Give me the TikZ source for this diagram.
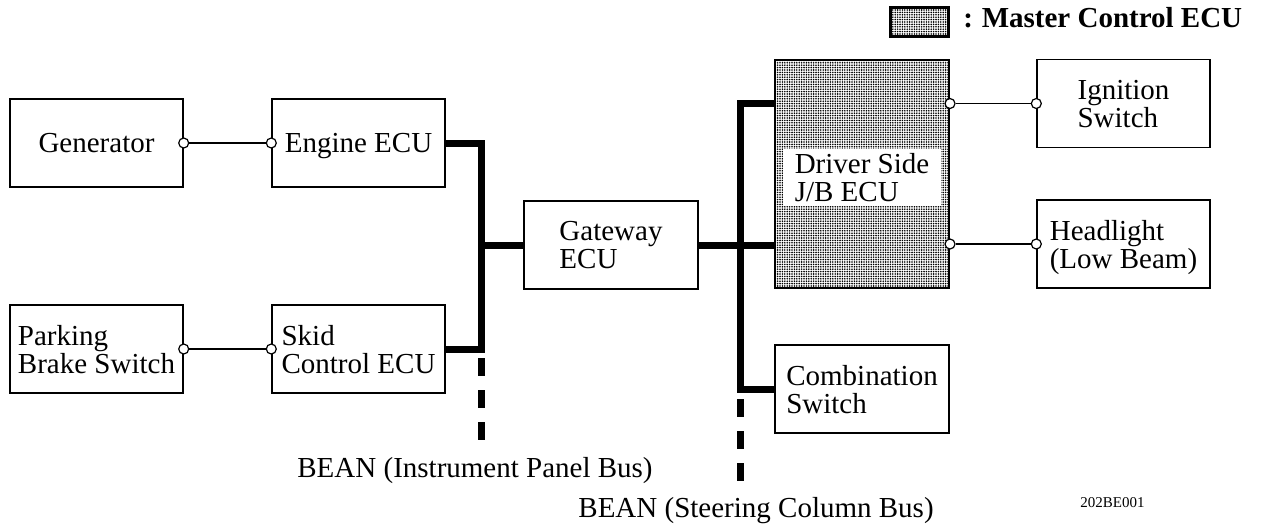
\documentclass[tikz,border=0pt]{standalone}
\usepackage{fontspec}
\setmainfont{Liberation Serif}
\usetikzlibrary{calc,patterns.meta}
\tikzset{
  unit/.style={draw, line width=0.7pt, minimum width=86.5pt, minimum height=44pt, align=left, inner sep=2pt, text depth=0pt, font=\fontsize{14.5}{14}\selectfont},
  master/.style={draw, line width=1pt, inner sep=0pt, pattern={Dots[distance=1.2pt,radius=0.45pt]}},
  port/.style={circle, draw, line width=0.6pt, fill=white, inner sep=0pt, minimum size=5pt},
  link/.style={line width=0.6pt},
  bus/.style={line width=3.5pt, line join=miter},
  busdash/.style={line width=3.5pt, dash pattern=on 9pt off 7pt},
  buslabel/.style={anchor=base west, inner sep=0pt, font=\fontsize{14.5}{14}\selectfont}
}
\begin{document}
\begin{tikzpicture}[x=0.5pt,y=-0.5pt]
    \useasboundingbox (0,0) rectangle (1261,526);
    \node[master, line width=1.5pt, minimum width=29pt, minimum height=14.5pt] (key) at (919.5,21.5) {};
    \node[anchor=base west, inner sep=0pt, font=\bfseries\fontsize{14.5}{14}\selectfont] (keytext) at (963,27) {:\hspace{0.3em}Master Control ECU};
    \node[unit] (gen) at (96.5,143) {Generator};
    \node[unit] (eng) at (358.5,143) {Engine ECU};
    \node[unit] (park) at (96.5,349) {Parking\\Brake Switch};
    \node[unit] (skid) at (358.5,349) {Skid\\Control ECU};
    \node[unit, minimum width=87pt] (gate) at (611,245) {Gateway\\ECU};
    \node[master, minimum width=87pt, minimum height=114pt] (jb) at (862,174) {};
    \node[fill=white, align=left, inner xsep=6pt, inner ysep=2pt, font=\fontsize{14.5}{14}\selectfont] (jbtext) at (862,177.5) {Driver Side\\J/B ECU};
    \node[unit] (ign) at (1123.5,103.5) {Ignition\\Switch};
    \node[unit] (head) at (1123.5,244) {Headlight\\(Low Beam)};
    \node[unit, minimum width=87pt] (comb) at (862,389) {Combination\\Switch};
    \node[port] (genp) at (gen.east) {};
    \node[port] (engp) at (eng.west) {};
    \node[port] (parkp) at (park.east) {};
    \node[port] (skidp) at (skid.west) {};
    \node[port] (jbign) at (jb.east |- ign.west) {};
    \node[port] (ignp) at (ign.west) {};
    \node[port] (jbhead) at (jb.east |- head.west) {};
    \node[port] (headp) at (head.west) {};
    \draw[link] (genp) -- (engp);
    \draw[link] (parkp) -- (skidp);
    \draw[link] (jbign) -- (ignp);
    \draw[link] (jbhead) -- (headp);
    \coordinate (ipb) at (481,245);
    \coordinate (ipbtop) at (481,358);
    \coordinate (ipbend) at (481,440);
    \draw[bus] (eng.east) -| (ipb) |- (skid.east);
    \draw[bus] (ipb) -- (gate.west);
    \draw[busdash] (ipbtop) -- (ipbend);
    \coordinate (scb) at (740,245);
    \coordinate (scbtop) at (740,399);
    \coordinate (scbend) at (740,482);
    \draw[bus] (jb.west |- ign.west) -| (scb) |- (comb.west);
    \draw[bus] (gate.east) -- (jb.west |- gate.east);
    \draw[busdash] (scbtop) -- (scbend);
    \node[buslabel] (ipbname) at (297,477) {BEAN (Instrument Panel Bus)};
    \node[buslabel] (scbname) at (578,517) {BEAN (Steering Column Bus)};
    \node[anchor=base west, inner sep=0pt, font=\fontsize{7.5}{8}\selectfont] (code) at (1080,507) {202BE001};
\end{tikzpicture}
\end{document}
